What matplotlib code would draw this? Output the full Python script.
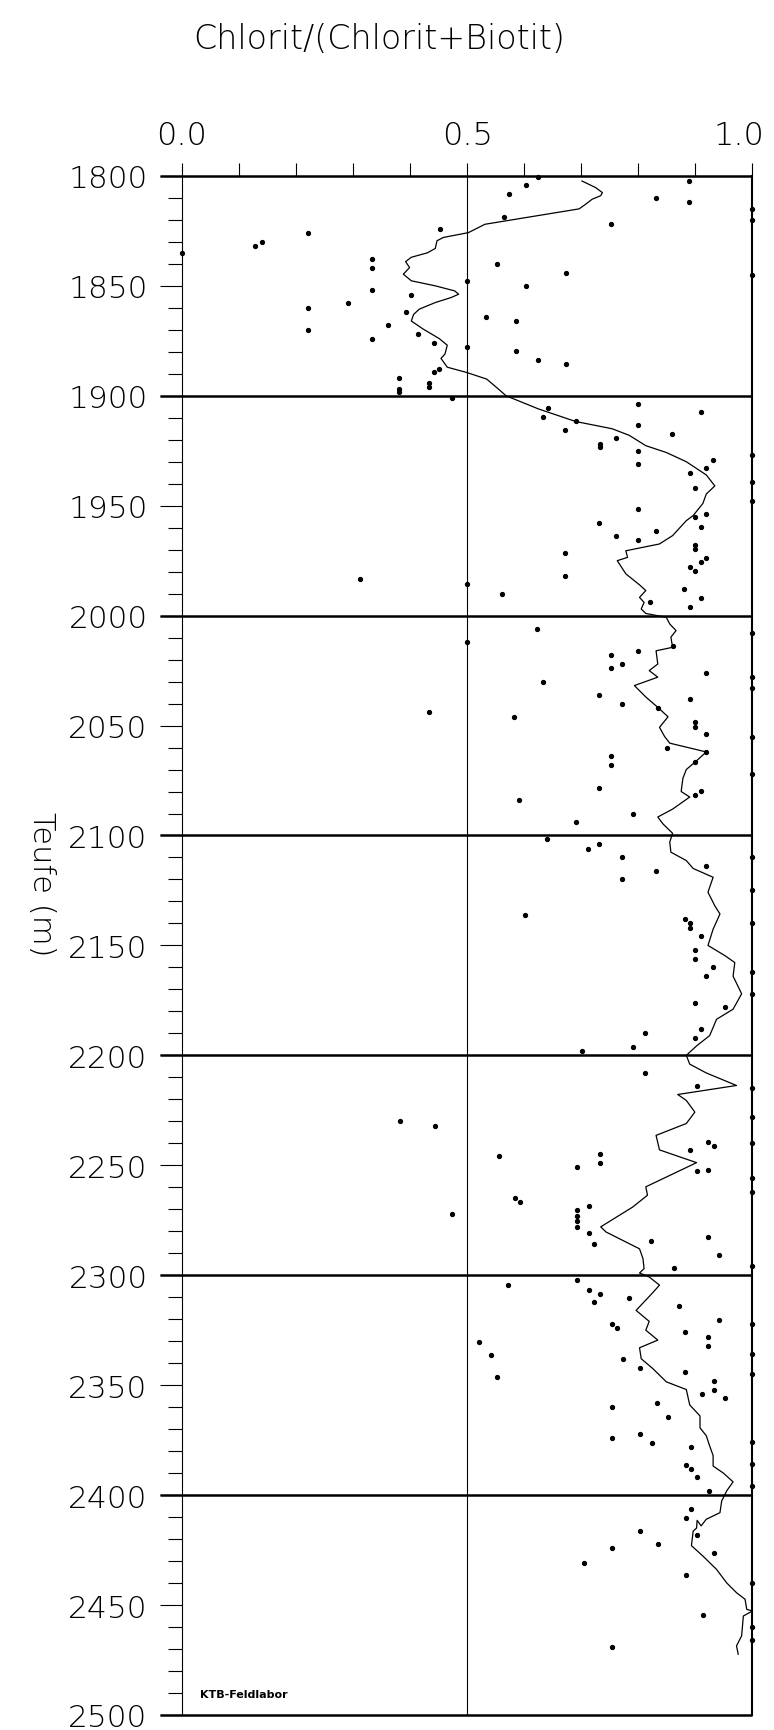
import matplotlib
from matplotlib import pyplot as plt
from matplotlib.ticker import MultipleLocator
from matplotlib.transforms import ScaledTranslation

matplotlib.use("Agg")

# running mean of the ratio (depth in m, value)
curve_depth = [
    1802.3, 1805.3, 1807.6, 1809, 1810.6, 1813, 1815, 1818, 1820.5, 1822,
    1825.8, 1828, 1829.5, 1833, 1835, 1837, 1839, 1841.7, 1844.7, 1847.7,
    1850, 1852.3, 1853.8, 1855.3, 1857.6, 1860.6, 1863, 1866, 1869.7, 1874,
    1877, 1881, 1883, 1887, 1889.4, 1892.4, 1897, 1900, 1906, 1911.7,
    1915, 1918, 1922.7, 1925.8, 1930, 1936, 1941, 1944.7, 1949, 1954.5,
    1956.8, 1963.6, 1967.4, 1970.5, 1973.5, 1975, 1981, 1986, 1988.6, 1991.7,
    1994, 1997, 1999, 2000.8, 2003.8, 2006.8, 2009.8, 2014.4, 2016, 2022,
    2025, 2028, 2031.8, 2037, 2041.7, 2046, 2050.8, 2055, 2058, 2062,
    2066, 2070, 2074, 2078, 2080, 2082.5, 2088, 2091.6, 2094.7, 2099,
    2103, 2107.6, 2111.4, 2115, 2119, 2125.8, 2132, 2135.7, 2142.6, 2150,
    2154.7, 2157.8, 2164, 2172, 2179, 2183.6, 2191, 2195.7, 2200, 2204,
    2208, 2213.7, 2217.8, 2220.5, 2225.8, 2231, 2236.4, 2243, 2248.8, 2259.8,
    2263.6, 2269, 2278, 2280.3, 2288, 2292.4, 2297, 2299, 2300.8, 2304.5,
    2308, 2316, 2321, 2325, 2329.5, 2333, 2338, 2342.4, 2348.5, 2352,
    2359, 2364, 2369.4, 2373, 2377.7, 2382, 2386.8, 2390, 2394, 2398,
    2402.7, 2408, 2411, 2414, 2411.5, 2415, 2416.4, 2423, 2427.7, 2433.8,
    2440, 2444.4, 2447.4, 2452, 2452.7, 2455, 2464, 2468.6, 2472.4,
]
curve_value = [
    0.701, 0.725, 0.737, 0.734, 0.719, 0.707, 0.696, 0.625, 0.566, 0.531,
    0.502, 0.458, 0.447, 0.444, 0.430, 0.402, 0.392, 0.399, 0.388, 0.402,
    0.444, 0.478, 0.485, 0.472, 0.444, 0.416, 0.406, 0.402, 0.423, 0.451,
    0.465, 0.461, 0.454, 0.465, 0.499, 0.534, 0.555, 0.568, 0.625, 0.690,
    0.754, 0.784, 0.813, 0.849, 0.884, 0.919, 0.934, 0.919, 0.913, 0.896,
    0.884, 0.860, 0.837, 0.778, 0.781, 0.763, 0.778, 0.802, 0.813, 0.802,
    0.810, 0.805, 0.813, 0.849, 0.855, 0.866, 0.857, 0.860, 0.831, 0.834,
    0.819, 0.834, 0.793, 0.813, 0.834, 0.852, 0.837, 0.846, 0.855, 0.919,
    0.902, 0.884, 0.878, 0.876, 0.875, 0.890, 0.860, 0.834, 0.843, 0.860,
    0.855, 0.857, 0.884, 0.896, 0.931, 0.922, 0.934, 0.943, 0.931, 0.922,
    0.952, 0.969, 0.966, 0.981, 0.966, 0.937, 0.925, 0.902, 0.884, 0.890,
    0.919, 0.972, 0.869, 0.884, 0.899, 0.884, 0.831, 0.837, 0.902, 0.813,
    0.816, 0.790, 0.734, 0.743, 0.802, 0.808, 0.810, 0.802, 0.819, 0.837,
    0.825, 0.796, 0.819, 0.813, 0.834, 0.802, 0.805, 0.825, 0.849, 0.884,
    0.890, 0.908, 0.908, 0.919, 0.925, 0.931, 0.931, 0.949, 0.966, 0.955,
    0.946, 0.943, 0.919, 0.910, 0.903, 0.902, 0.896, 0.893, 0.913, 0.937,
    0.955, 0.972, 0.987, 0.990, 1.000, 0.984, 0.981, 0.972, 0.975,
]

# single samples
dot_depth = [
    1800.3, 1804.2, 1808.3, 1802.3, 1810, 1812, 1818.5, 1822, 1824, 1826,
    1830, 1832, 1835, 1838, 1842, 1840, 1844, 1850, 1852, 1854,
    1858, 1860, 1862, 1864, 1866, 1868, 1870, 1872, 1874, 1876,
    1879.5, 1883.6, 1885.6, 1887.6, 1889.4, 1891.7, 1894, 1895.8, 1897, 1898.5,
    1901, 1848, 1878, 1905.6, 1909.7, 1915.5, 1911.7, 1922, 1923.5, 1919.4,
    1903.8, 1913.5, 1925.3, 1931, 1907.6, 1917.6, 1929, 1933, 1935, 1942,
    1951.5, 1953.6, 1955.3, 1957.9, 1959.5, 1961.5, 1963.6, 1965.5, 1967.7,
    1969.7, 1973.6, 1975.6, 1977.7, 1979.7, 1971.7, 1981.8, 1990.2, 1983.5,
    1985.5, 1987.9, 1991.8, 1994, 1996, 2006, 2012, 2016, 2018, 2022,
    2024, 2014, 2026, 2030, 2036, 2040, 2042, 2038, 2046, 2044,
    2048.5, 2050.5, 2054, 2060, 2062, 2066.4, 2064, 2068, 2078.5, 2084,
    2081.8, 2079.8, 2090, 2094, 2101.5, 2106, 2104, 2109.7, 2120, 2116,
    2114, 2136, 2138, 2140, 2142, 2145.7, 2152, 2156, 2160, 2164,
    2176, 2178, 2188, 2192, 2190, 2196, 2198, 2208, 2214, 2230,
    2232, 2239.2, 2241.2, 2243, 2245, 2249, 2246, 2251, 2252.7, 2252,
    2264.8, 2266.8, 2268.6, 2270.5, 2273, 2275.5, 2278, 2272, 2280.6, 2286,
    2284.4, 2282.4, 2290.6, 2296.5, 2304.5, 2302.4, 2306.5, 2308.5, 2312, 2310.3,
    2314.2, 2320.3, 2322, 2324, 2326, 2328.3, 2332.3, 2330.3, 2336.5, 2338,
    2342, 2346.4, 2344.2, 2348.3, 2352.3, 2354, 2356, 2358, 2360, 2364.7,
    2374.2, 2372.3, 2376.4, 2378.3, 2386.2, 2388, 2392, 2398, 2406.5, 2410.3,
    2418.3, 2416.4, 2422.4, 2424.2, 2426.2, 2430.8, 2436.5, 2454.7, 2469,
]
dot_value = [
    0.624, 0.603, 0.574, 0.889, 0.831, 0.889, 0.565, 0.752, 0.452, 0.221,
    0.140, 0.128, 0.0, 0.333, 0.333, 0.553, 0.674, 0.603, 0.333, 0.402,
    0.291, 0.221, 0.392, 0.533, 0.586, 0.361, 0.221, 0.413, 0.333, 0.442,
    0.586, 0.624, 0.674, 0.451, 0.442, 0.381, 0.433, 0.433, 0.381, 0.381,
    0.473, 0.5, 0.5, 0.641, 0.633, 0.671, 0.691, 0.733, 0.733, 0.761,
    0.800, 0.800, 0.800, 0.800, 0.909, 0.859, 0.930, 0.919, 0.890, 0.900,
    0.800, 0.919, 0.900, 0.731, 0.910, 0.831, 0.761, 0.800, 0.900,
    0.900, 0.919, 0.910, 0.890, 0.900, 0.671, 0.671, 0.561, 0.312,
    0.5, 0.880, 0.910, 0.820, 0.890, 0.622, 0.5, 0.800, 0.752, 0.772,
    0.752, 0.860, 0.919, 0.633, 0.731, 0.772, 0.834, 0.890, 0.582, 0.433,
    0.900, 0.900, 0.919, 0.851, 0.919, 0.900, 0.752, 0.752, 0.731, 0.591,
    0.900, 0.910, 0.791, 0.691, 0.640, 0.712, 0.731, 0.772, 0.772, 0.831,
    0.919, 0.601, 0.881, 0.890, 0.890, 0.910, 0.900, 0.900, 0.931, 0.919,
    0.900, 0.951, 0.910, 0.900, 0.812, 0.791, 0.701, 0.812, 0.902, 0.383,
    0.444, 0.922, 0.932, 0.891, 0.733, 0.733, 0.556, 0.693, 0.902, 0.922,
    0.583, 0.592, 0.713, 0.693, 0.693, 0.693, 0.693, 0.474, 0.713, 0.723,
    0.822, 0.922, 0.942, 0.862, 0.572, 0.693, 0.713, 0.733, 0.723, 0.783,
    0.872, 0.942, 0.753, 0.763, 0.882, 0.922, 0.922, 0.521, 0.541, 0.773,
    0.803, 0.552, 0.882, 0.932, 0.932, 0.912, 0.952, 0.833, 0.753, 0.852,
    0.753, 0.803, 0.823, 0.892, 0.883, 0.892, 0.903, 0.923, 0.892, 0.883,
    0.903, 0.803, 0.834, 0.754, 0.933, 0.704, 0.884, 0.913, 0.754,
]

# samples with ratio 1.0 (sit on the right frame)
edge_depth = [
    1815, 1820, 1845, 1927, 1939, 1948, 2008, 2028, 2033, 2055, 2072,
    2110, 2125, 2140, 2162, 2172, 2215, 2228, 2240, 2256, 2262, 2296,
    2322, 2336, 2345, 2376, 2386, 2396, 2440, 2460, 2466,
]

depth_lines = [1800, 1900, 2000, 2100, 2200, 2300, 2400, 2500]
x_ticks = [0.0, 0.5, 1.0]
x_labels = ["0.0", "0.5", "1.0"]

plt.rcParams["font.family"] = ["DejaVu Sans"]
plt.rcParams["font.weight"] = 200

fig = plt.figure(figsize=(7.74, 17.31), dpi=100)
ax = fig.add_axes([0.2351, 0.0087, 0.7371, 0.8891])

ax.plot(curve_value, curve_depth, color="black", linewidth=0.9)
ax.plot(dot_value, dot_depth, "o", color="black", markersize=2.8,
        clip_on=False)
ax.plot([1.0] * len(edge_depth), edge_depth, "o", color="black",
        markersize=2.8, clip_on=False)

ax.axvline(0.5, color="black", linewidth=0.8)
ax.hlines(depth_lines, -22 / 570, 1.0, color="black", linewidth=1.8,
          clip_on=False)

ax.set_xlim(0, 1)
ax.set_ylim(2500, 1800)

for side in ["top", "bottom"]:
    ax.spines[side].set_visible(False)
ax.spines["left"].set_linewidth(0.8)
ax.spines["right"].set_linewidth(1.5)

ax.xaxis.tick_top()
ax.set_xticks(x_ticks)
ax.set_xticklabels(x_labels)
ax.xaxis.set_minor_locator(MultipleLocator(0.1))
ax.tick_params(axis="x", which="both", direction="out", length=9.4,
               width=0.8, pad=9, labelsize=23)
# keep "1.0" inside the figure, as in the original
last = ax.get_xticklabels()[-1]
last.set_transform(last.get_transform()
                   + ScaledTranslation(-10 / 72, 0, fig.dpi_scale_trans))

ax.set_yticks(range(1800, 2501, 50))
ax.yaxis.set_minor_locator(MultipleLocator(10))
ax.tick_params(axis="y", which="major", direction="out", length=15.8,
               width=0.8, pad=9, labelsize=22.5)
ax.tick_params(axis="y", which="minor", direction="out", length=10,
               width=0.8)

fig.text(0.053, 0.489, "Teufe (m)", rotation=270, ha="center",
         va="center", fontsize=22)
fig.text(0.49, 0.977, "Chlorit/(Chlorit+Biotit)", ha="center",
         va="center", fontsize=24)
ax.text(0.032, 2492, "KTB-Feldlabor", fontsize=8, fontweight="bold")

fig.savefig("out.png", dpi=100)
